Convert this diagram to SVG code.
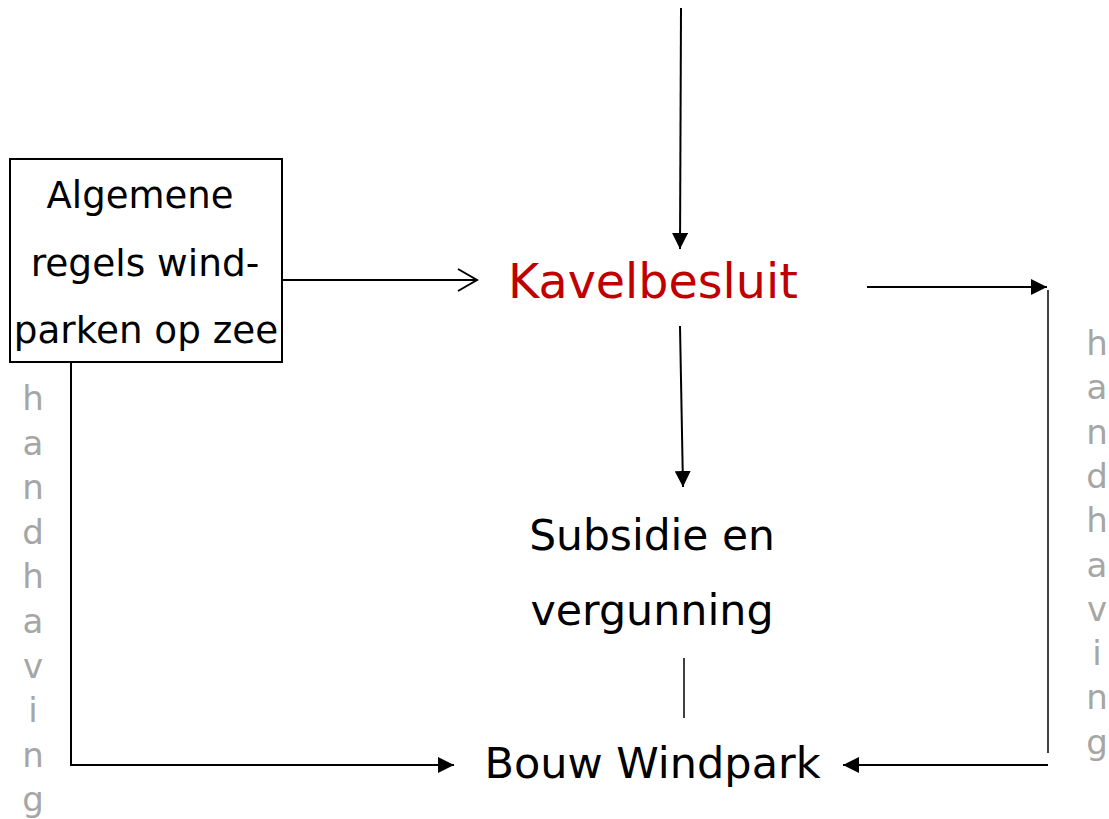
<svg xmlns="http://www.w3.org/2000/svg" width="1109" height="819" viewBox="0 0 1109 819">
<style>
text{font-family:"DejaVu Sans","Verdana",sans-serif;text-anchor:middle;fill:#000}
.red{fill:#C00000}
.grey{fill:#A6A6A6;font-size:34px}
.ln{stroke:#000;stroke-width:2;fill:none}
.thin{stroke:#000;stroke-width:1.5;fill:none}
.arr{marker-end:url(#ah)}
</style>
<defs>
<marker id="ah" markerUnits="userSpaceOnUse" markerWidth="16" markerHeight="16" refX="16" refY="8" orient="auto" viewBox="0 0 16 16">
<path d="M0,0 L16,8 L0,16 z" fill="#000"/>
</marker>
<marker id="oh" markerUnits="userSpaceOnUse" markerWidth="22" markerHeight="26" refX="20" refY="13" orient="auto" viewBox="0 0 22 26">
<path d="M1,2 L20,13 L1,24" fill="none" stroke="#000" stroke-width="2"/>
</marker>
</defs>
<rect width="1109" height="819" fill="#fff"/>
<g id="connectors">
<line class="ln arr" x1="681" y1="8" x2="680" y2="249"/>
<line class="ln" x1="282" y1="280" x2="477" y2="280" marker-end="url(#oh)"/>
<line class="ln arr" x1="867" y1="287" x2="1047" y2="287"/>
<line class="thin" x1="1048" y1="290" x2="1048" y2="753"/>
<line class="ln arr" x1="1048" y1="765" x2="843" y2="765"/>
<line class="ln arr" x1="680" y1="326" x2="683" y2="487"/>
<line class="thin" x1="684" y1="658" x2="684" y2="718"/>
<polyline class="ln arr" points="71,362 71,765 454,765"/>
</g>
<g id="algemene">
<rect x="10" y="159" width="272" height="203" fill="#fff" stroke="#000" stroke-width="2"/>
<text x="140" y="208" font-size="37">Algemene</text>
<text x="145" y="276" font-size="37.5">regels wind-</text>
<text x="146" y="343" font-size="37.3">parken op zee</text>
</g>
<g id="kavelbesluit">
<text class="red" x="653" y="298" font-size="47.6">Kavelbesluit</text>
</g>
<g id="subsidie">
<text x="652" y="550" font-size="42.4">Subsidie en</text>
<text x="652" y="625" font-size="42.8">vergunning</text>
</g>
<g id="bouw">
<text x="652.5" y="778" font-size="43">Bouw Windpark</text>
</g>
<g id="handhaving-left">
<text class="grey" x="33" y="410">h</text>
<text class="grey" x="33" y="454.6">a</text>
<text class="grey" x="33" y="499.2">n</text>
<text class="grey" x="33" y="543.8">d</text>
<text class="grey" x="33" y="588.4">h</text>
<text class="grey" x="33" y="633">a</text>
<text class="grey" x="33" y="677.6">v</text>
<text class="grey" x="33" y="722.2">i</text>
<text class="grey" x="33" y="766.8">n</text>
<text class="grey" x="33" y="811.4">g</text>
</g>
<g id="handhaving-right">
<text class="grey" x="1097" y="355">h</text>
<text class="grey" x="1097" y="399.3">a</text>
<text class="grey" x="1097" y="443.6">n</text>
<text class="grey" x="1097" y="487.9">d</text>
<text class="grey" x="1097" y="532.2">h</text>
<text class="grey" x="1097" y="576.5">a</text>
<text class="grey" x="1097" y="620.8">v</text>
<text class="grey" x="1097" y="665.1">i</text>
<text class="grey" x="1097" y="709.4">n</text>
<text class="grey" x="1097" y="753.7">g</text>
</g>
</svg>
